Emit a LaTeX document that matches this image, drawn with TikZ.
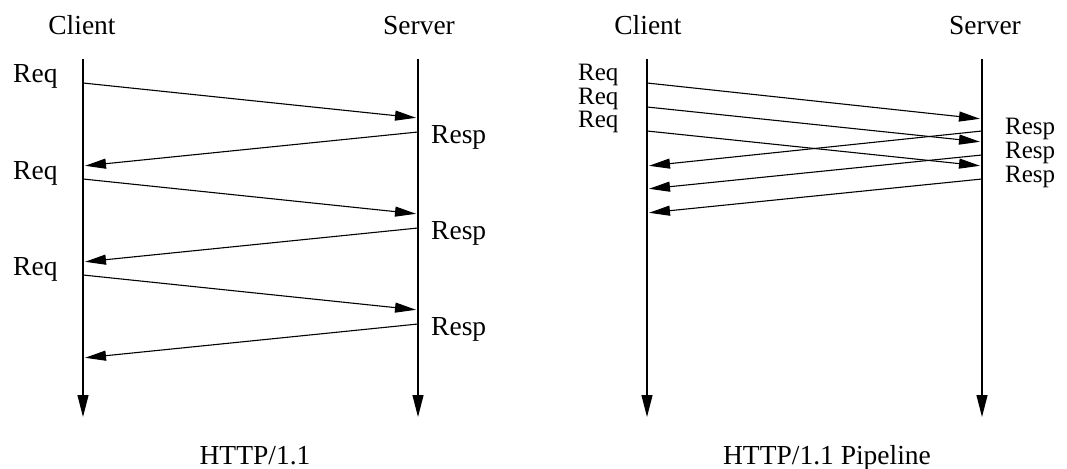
\documentclass[tikz,border=0pt]{standalone}
\usepackage{fontspec}
\setmainfont{Liberation Serif}
\usetikzlibrary{arrows.meta}

\tikzset{
  lbl/.style={inner sep=0pt, font=\fontsize{27.5}{30}\selectfont},
  stacklbl/.style={inner sep=0pt, font=\fontsize{25}{27}\selectfont},
  lifeline/.style={line width=1.2pt, -{Triangle[length=22pt,width=11pt]}},
  msg/.style={line width=1.1pt, -{Triangle[length=21pt,width=10pt]}, shorten >=2pt},
}

\begin{document}
\begin{tikzpicture}[x=1pt,y=-1pt]
\useasboundingbox (0,0) rectangle (1067,468);

% ---------- plain HTTP/1.1 ----------
\node[lbl, anchor=base] (cA) at (82,35) {Client};
\node[lbl, anchor=base] (sA) at (419,35) {Server};
\coordinate (cAtop) at (83,59);  \coordinate (cAbot) at (83,417);
\coordinate (sAtop) at (418,59); \coordinate (sAbot) at (418,417);
\draw[lifeline] (cAtop) -- (cAbot);
\draw[lifeline] (sAtop) -- (sAbot);

\foreach \k in {0,1,2}{
  \pgfmathsetmacro{\d}{96*\k}
  \coordinate (aq\k) at (83,83+\d);
  \coordinate (ar\k) at (418,118+\d);
  \coordinate (as\k) at (418,132+\d);
  \coordinate (at\k) at (83,166+\d);
  \node[lbl, anchor=base west] (reqA\k) at (13,83+\d) {Req};
  \node[lbl, anchor=base west] (respA\k) at (431,143+\d) {Resp};
  \draw[msg] (aq\k) -- (ar\k);
  \draw[msg] (as\k) -- (at\k);
}
\node[lbl, anchor=base] (tA) at (255,464) {HTTP/1.1};

% ---------- pipelined HTTP/1.1 ----------
\node[lbl, anchor=base] (cB) at (648,35) {Client};
\node[lbl, anchor=base] (sB) at (985,35) {Server};
\coordinate (cBtop) at (647,59);  \coordinate (cBbot) at (647,417);
\coordinate (sBtop) at (982,59);  \coordinate (sBbot) at (982,417);
\draw[lifeline] (cBtop) -- (cBbot);
\draw[lifeline] (sBtop) -- (sBbot);

\foreach \k/\q/\r/\s/\t/\lq/\ls in {0/83/119/131/166/81/135, 1/107/142/155/189/105/158, 2/131/166/179/213/128/182}{
  \coordinate (bq\k) at (647,\q);
  \coordinate (br\k) at (982,\r);
  \coordinate (bs\k) at (982,\s);
  \coordinate (bt\k) at (647,\t);
  \node[stacklbl, anchor=base west] (reqB\k) at (578,\lq) {Req};
  \node[stacklbl, anchor=base west] (respB\k) at (1005,\ls) {Resp};
  \draw[msg] (bq\k) -- (br\k);
  \draw[msg] (bs\k) -- (bt\k);
}
\node[lbl, anchor=base] (tB) at (827,464) {HTTP/1.1 Pipeline};
\end{tikzpicture}
\end{document}
